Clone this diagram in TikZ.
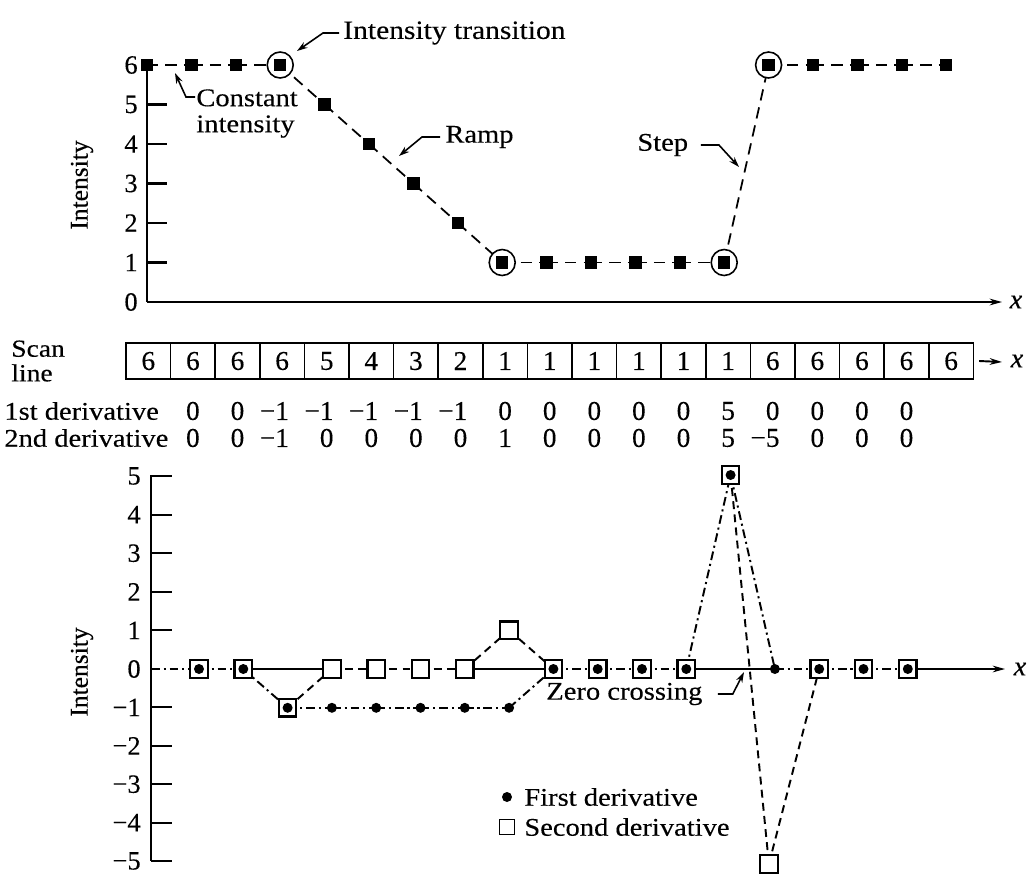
\documentclass[tikz,border=0pt]{standalone}
\usepackage{fontspec}
\setmainfont[FakeStretch=1.12,FakeBold=0.25]{Liberation Serif}
\newfontfamily\plainserif[FakeBold=0.25]{Liberation Serif}
\usetikzlibrary{arrows.meta}
\begin{document}
\begin{tikzpicture}[x=0.02cm,y=-0.02cm,
  every node/.style={inner sep=0pt},
  lab/.style={font=\fontsize{14.5}{15}\selectfont},
  ticklab/.style={font=\plainserif\fontsize{15}{15}\selectfont, anchor=east},
  axisline/.style={line width=1.2pt},
  axarrow/.style={line width=1.1pt, -{Stealth[length=7pt,width=3.8pt]}},
  ptr/.style={line width=0.9pt, -{Stealth[length=6pt,width=3.8pt]}},
  dline/.style={line width=1pt, dash pattern=on 6.5pt off 4pt},
  fline/.style={line width=1.1pt, dash pattern=on 5pt off 2.2pt on 1.2pt off 2.2pt},
  sline/.style={line width=1.1pt, dash pattern=on 4.5pt off 3pt},
  fsq/.style={fill=black, minimum size=0.25cm},
  ring/.style={circle, draw, fill=white, line width=0.9pt, minimum size=0.52cm},
  osq/.style={draw, fill=white, line width=1.3pt, minimum size=0.35cm},
  fdot/.style={circle, fill=black, minimum size=0.2cm},
  cell/.style={draw, line width=0.9pt, minimum width=0.892cm, minimum height=0.72cm, font=\plainserif\fontsize{15.5}{15}\selectfont},
  val/.style={font=\plainserif\fontsize{15.5}{15}\selectfont}
]
\useasboundingbox (0,0) rectangle (1032,873);

% ---------------- top plot ----------------
\coordinate (ttop) at (147,65);
\coordinate (torig) at (147,302);
\coordinate (txend) at (1002,302);
\draw[axisline] (ttop) -- (torig);
\draw[axarrow] (torig) -- (txend);
\node[font=\itshape\plainserif\fontsize{16}{16}\selectfont] (tx) at (1016,302) {x};
\foreach \v in {1,...,5} \draw[axisline] (147,{302-39.5*\v}) -- ++(20,0);
\foreach \v in {0,...,6} \node[ticklab] (tl\v) at (138,{302-39.5*\v}) {\v};
\node[rotate=90, font=\plainserif\fontsize{14.5}{15}\selectfont] (tint) at (82,185) {Intensity};

\foreach \v [count=\i from 0] in {6,6,6,6,5,4,3,2,1,1,1,1,1,1,6,6,6,6,6}
  \coordinate (t\i) at ({147+44.4*\i},{302-39.5*\v});
\foreach \i [count=\j from 1] in {0,...,17} \draw[dline] (t\i) -- (t\j);
\foreach \i in {3,8,13,14} \node[ring] (r\i) at (t\i) {};
\foreach \i in {0,...,18} \node[fsq] (q\i) at (t\i) {};

% annotations
\node[lab, anchor=west, font=\fontsize{15}{15}\selectfont] (itxt) at (343,33) {Intensity transition};
\coordinate (itip) at (297,51);
\draw[ptr] ([xshift=-0.08cm]itxt.west) -- ++(-16,0) -- (itip);

\node[lab, anchor=north west, align=left, font=\fontsize{14.5}{14.8}\selectfont] (ctxt) at (196,89) {Constant\\intensity};
\coordinate (cst) at (195,97);
\coordinate (ctip) at (175,73);
\draw[ptr] (cst) -- (186,97) -- (ctip);

\node[lab, anchor=west] (rtxt) at (445,137) {Ramp};
\coordinate (rtip) at (399,156);
\draw[ptr] ([xshift=-0.1cm]rtxt.west) -- ++(-18,0) -- (rtip);

\node[lab, anchor=west] (stxt) at (637,145) {Step};
\coordinate (stip) at (739,167);
\draw[ptr] ([xshift=0.25cm]stxt.east) -- ++(18,0) -- (stip);

% ---------------- scan line ----------------
\node[anchor=west, align=left, font=\fontsize{14}{14}\selectfont] (scan) at (11,361) {Scan\\line};
\foreach \v [count=\i from 0] in {6,6,6,6,5,4,3,2,1,1,1,1,1,1,6,6,6,6,6}
  \node[cell] (c\i) at ({126+44.6*(\i+0.5)},361) {\v};
\coordinate (sxend) at (1002,362);
\draw[axarrow] ([xshift=0.1cm]c18.east) -- (sxend);
\node[font=\itshape\plainserif\fontsize{16}{16}\selectfont] (sx) at (1017,361) {x};

\node[lab, anchor=west] (d1) at (4,411) {1st derivative};
\node[lab, anchor=west] (d2) at (4,438) {2nd derivative};
\foreach \v [count=\i from 1] in {0,0,\llap{−}1,\llap{−}1,\llap{−}1,\llap{−}1,\llap{−}1,0,0,0,0,0,5,0,0,0,0}
  \node[val] (da\i) at ({126+44.6*(\i+0.5)},411) {\v};
\foreach \v [count=\i from 1] in {0,0,\llap{−}1,0,0,0,0,1,0,0,0,0,5,\llap{−}5,0,0,0}
  \node[val] (db\i) at ({126+44.6*(\i+0.5)},438) {\v};

% ---------------- bottom plot ----------------
\coordinate (btop) at (151,475);
\coordinate (bbot) at (151,861);
\coordinate (borig) at (151,669);
\draw[axisline] (btop) -- (bbot);
\foreach \v in {1,...,5} {
  \draw[axisline] (151,{669-38.6*\v}) -- ++(21,0);
  \draw[axisline] (151,{669+38.4*\v}) -- ++(21,0);
  \node[ticklab] (bp\v) at (141,{669-38.6*\v}) {\v};
  \node[ticklab] (bn\v) at (141,{669+38.4*\v}) {−\v};
}
\node[ticklab] (b0) at (141,669) {0};
\node[rotate=90, font=\plainserif\fontsize{14.5}{15}\selectfont] (bint) at (82,672) {Intensity};

% first derivative (dots) and second derivative (squares)
\foreach \v [count=\i from 0] in {0,0,-1,-1,-1,-1,-1,-1,0,0,0,0,5,0,0,0,0}
  \coordinate (f\i) at ({199+44.3*\i},{669-38.8*\v});
\foreach \v [count=\i from 0] in {0,0,-1,0,0,0,0,1,0,0,0,0,5,-5,0,0,0}
  \coordinate (s\i) at ({199+44.3*\i},{669-38.8*\v});
\coordinate (s13) at ({199+44.3*13-6},864);
\coordinate (bxend) at (1005,669);

% x-axis pieces
\draw[fline] (borig) -- (f0);
\draw[line width=1pt] (s1) -- (s3);
\draw[line width=1pt] (s6) -- (s8);
\draw[line width=1pt] (s11) -- (f13);
\draw[axarrow, line width=1pt] (s16) -- (bxend);
\node[font=\itshape\plainserif\fontsize{16}{16}\selectfont] (bx) at (1020,669) {x};

% first derivative path
\foreach \i [count=\j from 1] in {0,...,15} \draw[fline] (f\i) -- (f\j);
% second derivative path where it differs
\foreach \i/\j in {2/3,3/4,4/5,5/6,6/7,7/8,12/13,13/14} \draw[sline] (s\i) -- (s\j);

% markers
\foreach \i in {0,...,16} \node[osq] (S\i) at (s\i) {};
\foreach \i in {0,...,16} \node[fdot] (F\i) at (f\i) {};

% zero crossing
\node[lab, anchor=west] (ztxt) at (546,694) {Zero crossing};
\coordinate (ztip) at (744,672);
\draw[ptr] ([xshift=0.3cm]ztxt.east) -- ++(15,0) -- (ztip);

% legend
\node[fdot] (ldot) at (507,797) {};
\node[lab, anchor=west] (ltxt1) at (524,797) {First derivative};
\node[draw, line width=1pt, minimum size=0.3cm] (lsq) at (507,827) {};
\node[lab, anchor=west] (ltxt2) at (524,827) {Second derivative};
\end{tikzpicture}
\end{document}
